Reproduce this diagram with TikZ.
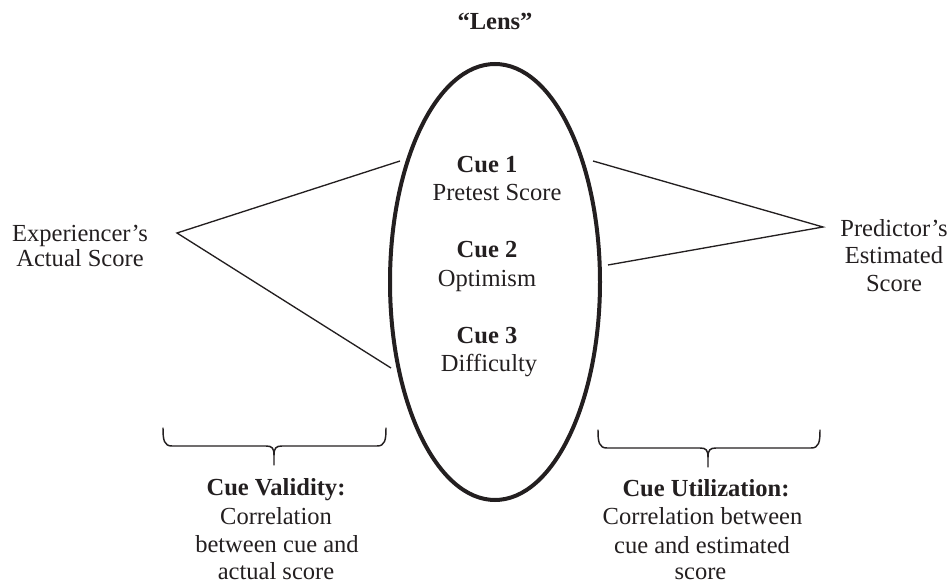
\documentclass[tikz,border=0pt]{standalone}
\usepackage{fontspec}
\setmainfont{Liberation Serif}
\usetikzlibrary{shapes.geometric}
\definecolor{ink}{HTML}{231F20}
\begin{document}
\begin{tikzpicture}[x=0.75pt,y=-0.75pt,
  txt/.style={anchor=base, inner sep=0pt, text=ink, font=\fontsize{18.4}{21}\selectfont},
  bold/.style={anchor=base, inner sep=0pt, text=ink, font=\fontsize{18.4}{21}\selectfont\bfseries},
  conn/.style={line width=1pt, draw=ink},
  bracepath/.style={line width=1.1pt, draw=ink, line join=round, line cap=round},
  lensshape/.style={draw=ink, ellipse, line width=3pt, minimum width=157.5pt, minimum height=327pt, inner sep=0pt}]
\useasboundingbox (0,0) rectangle (950,584);
% lens
\node[lensshape] (lens) at (495,282) {};
\node[bold] (title) at (495,30) {“Lens”};
% cues
\node[bold] (c1) at (487,173) {Cue 1};
\node[txt] (c1t) at (497,201) {Pretest Score};
\node[bold] (c2) at (487,258) {Cue 2};
\node[txt] (c2t) at (487,287) {Optimism};
\node[bold] (c3) at (487,344) {Cue 3};
\node[txt] (c3t) at (489,372) {Difficulty};
% side labels
\node[txt] (exp1) at (80,242) {Experiencer’s};
\node[txt] (exp2) at (80,267) {Actual Score};
\node[txt] (pre1) at (894,237) {Predictor’s};
\node[txt] (pre2) at (894,264) {Estimated};
\node[txt] (pre3) at (894,292) {Score};
% connector endpoints
\coordinate (lv) at (177,233);
\coordinate (lu) at (400,161);
\coordinate (ll) at (391,368);
\coordinate (rv) at (823,227);
\coordinate (ru) at (593,161);
\coordinate (rl) at (608,265);
\draw[conn] (lu) -- (lv) -- (ll);
\draw[conn] (ru) -- (rv) -- (rl);
% left brace
\draw[bracepath] (163,428) .. controls (163,440) and (164,446) .. (172,446) -- (266,446)
  .. controls (272,446) and (274,448) .. (274,455) -- (274,465);
\draw[bracepath] (386,428) .. controls (386,440) and (385,446) .. (377,446) -- (282,446)
  .. controls (276,446) and (274,448) .. (274,455);
% right brace
\draw[bracepath] (598,430) .. controls (598,442) and (599,448) .. (607,448) -- (700,448)
  .. controls (706,448) and (708,450) .. (708,457) -- (708,467);
\draw[bracepath] (820,430) .. controls (820,442) and (819,448) .. (811,448) -- (716,448)
  .. controls (710,448) and (708,450) .. (708,457);
% bottom captions
\node[bold] (cv0) at (276,496) {Cue Validity:};
\node[txt] (cv1) at (276,524) {Correlation};
\node[txt] (cv2) at (277,552) {between cue and};
\node[txt] (cv3) at (276,579) {actual score};
\node[bold] (cu0) at (706,497) {Cue Utilization:};
\node[txt] (cu1) at (702.5,525) {Correlation between};
\node[txt] (cu2) at (702,553) {cue and estimated};
\node[txt] (cu3) at (700.5,580) {score};
\end{tikzpicture}
\end{document}
